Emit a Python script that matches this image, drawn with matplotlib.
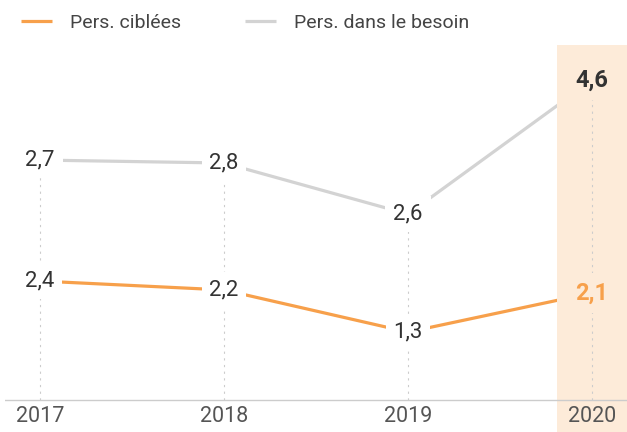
import matplotlib
matplotlib.use("Agg")
import matplotlib.pyplot as plt

plt.rcParams['font.family'] = ['Roboto', 'DejaVu Sans']

years = [2017, 2018, 2019, 2020]
ciblees_pos = [2.40, 2.22, 1.37, 2.16]
ciblees_lbl = ["2,4", "2,2", "1,3", "2,1"]
besoin_pos = [4.84, 4.78, 3.75, 6.45]
besoin_lbl = ["2,7", "2,8", "2,6", "4,6"]

orange = "#f7a04b"
grey = "#d3d3d3"
band = "#fdebd9"
dark = "#333333"

fig = plt.figure(figsize=(6.27, 4.32), dpi=100)
ax = fig.add_axes([0.008, 0.0, 0.992, 0.8958])
ax.set_xlim(2016.81, 2020.19)
ax.set_ylim(-0.645, 7.16)
ax.axis("off")

# highlight for 2020
ax.axvspan(2020 - 0.19, 2020 + 0.19, color=band, zorder=3, lw=0)
ax.axhline(0, color="#cccccc", lw=1, zorder=4)

for x, top in zip(years, besoin_pos):
    ax.plot([x, x], [0, top], color="#cccccc", lw=0.8, ls=(0, (2, 4)), zorder=4)

ax.plot(years, ciblees_pos, color=orange, lw=2.3, zorder=2, solid_capstyle="butt",
        label="Pers. ciblées")
ax.plot(years, besoin_pos, color=grey, lw=2.3, zorder=2, solid_capstyle="butt",
        label="Pers. dans le besoin")

for i, x in enumerate(years):
    last = i == len(years) - 1
    bg = band if last else "white"
    w = "bold" if last else "normal"
    fs = 17 if last else 16
    ax.text(x, besoin_pos[i], besoin_lbl[i], ha="center", va="center", fontsize=fs,
            color=dark, weight=w, zorder=5,
            bbox=dict(boxstyle="square,pad=0.35", fc=bg, ec="none"))
    ax.text(x, ciblees_pos[i], ciblees_lbl[i], ha="center", va="center", fontsize=fs,
            color=orange if last else dark, weight=w, zorder=5,
            bbox=dict(boxstyle="square,pad=0.35", fc=bg, ec="none"))
    ax.text(x, -0.33, str(x), ha="center", va="center", fontsize=15.5, color="#555555",
            zorder=5)

leg = fig.legend(loc="upper left", bbox_to_anchor=(0.012, 1.0), ncol=2, frameon=False,
                 fontsize=14, handlelength=1.6, handletextpad=0.9, columnspacing=3.3,
                 borderaxespad=0.3)
for t in leg.get_texts():
    t.set_color("#444444")

fig.savefig("out.png", dpi=100)
